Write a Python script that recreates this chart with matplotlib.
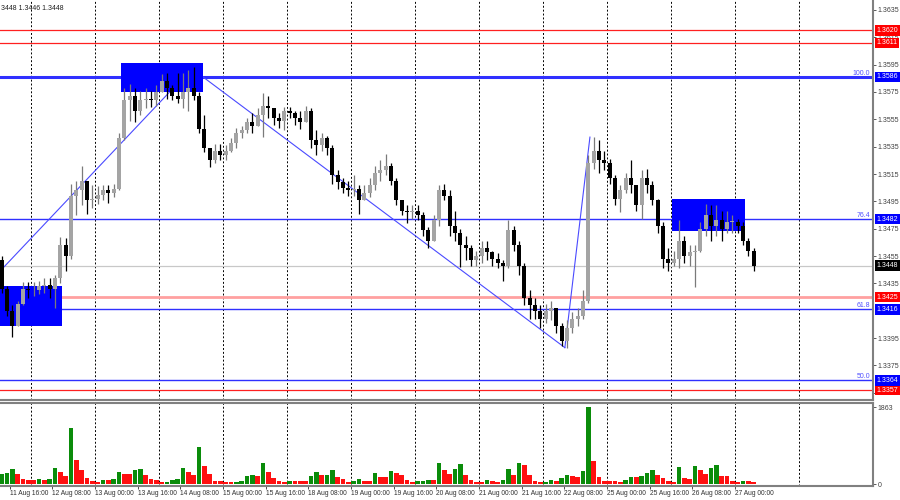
import numpy as np
import matplotlib
matplotlib.use("Agg")
import matplotlib.pyplot as plt
from matplotlib.patches import Rectangle

plt.rcParams['font.family'] = ['Liberation Sans', 'DejaVu Sans']

# GBPUSD, 2-hour bars from 11 Aug 04:00 to 27 Aug 06:00 (weekend hours skipped)
first_open = 1.3452
highs = [1.3455, 1.3433, 1.3419, 1.3422, 1.3436, 1.3436, 1.3436, 1.3437, 1.3439, 1.3439,
         1.3441, 1.3469, 1.3468, 1.3508, 1.3510, 1.3521, 1.3507, 1.3507, 1.3506, 1.3507,
         1.3507, 1.3508, 1.3545, 1.3578, 1.3581, 1.3578, 1.3576, 1.3578, 1.3576, 1.3580,
         1.3588, 1.3589, 1.3580, 1.3589, 1.3589, 1.3591, 1.3593, 1.3575, 1.3558, 1.3534,
         1.3537, 1.3537, 1.3536, 1.3541, 1.3549, 1.3550, 1.3556, 1.3560, 1.3563, 1.3574,
         1.3572, 1.3563, 1.3560, 1.3564, 1.3564, 1.3561, 1.3561, 1.3565, 1.3563, 1.3547,
         1.3545, 1.3543, 1.3536, 1.3518, 1.3512, 1.3510, 1.3514, 1.3507, 1.3507, 1.3512,
         1.3521, 1.3525, 1.3530, 1.3523, 1.3512, 1.3496, 1.3492, 1.3492, 1.3492, 1.3487,
         1.3476, 1.3485, 1.3507, 1.3508, 1.3503, 1.3488, 1.3475, 1.3470, 1.3463, 1.3459,
         1.3466, 1.3466, 1.3459, 1.3457, 1.3452, 1.3481, 1.3477, 1.3466, 1.3450, 1.3430,
         1.3424, 1.3419, 1.3420, 1.3422, 1.3417, 1.3406, 1.3408, 1.3414, 1.3417, 1.3430,
         1.3529, 1.3542, 1.3540, 1.3532, 1.3526, 1.3514, 1.3507, 1.3516, 1.3525, 1.3507,
         1.3518, 1.3519, 1.3510, 1.3497, 1.3480, 1.3461, 1.3459, 1.3481, 1.3470, 1.3463,
         1.3463, 1.3480, 1.3493, 1.3492, 1.3492, 1.3488, 1.3488, 1.3485, 1.3482, 1.3480,
         1.3468, 1.3461]
lows = [1.3428, 1.3411, 1.3396, 1.3406, 1.3419, 1.3424, 1.3426, 1.3427, 1.3428, 1.3424,
        1.3417, 1.3435, 1.3444, 1.3453, 1.3485, 1.3492, 1.3486, 1.3490, 1.3493, 1.3496,
        1.3494, 1.3498, 1.3503, 1.3540, 1.3554, 1.3553, 1.3558, 1.3563, 1.3564, 1.3565,
        1.3575, 1.3570, 1.3569, 1.3567, 1.3563, 1.3561, 1.3569, 1.3545, 1.3531, 1.3520,
        1.3523, 1.3525, 1.3525, 1.3531, 1.3534, 1.3541, 1.3545, 1.3545, 1.3550, 1.3542,
        1.3556, 1.3551, 1.3549, 1.3547, 1.3556, 1.3551, 1.3548, 1.3556, 1.3534, 1.3529,
        1.3532, 1.3529, 1.3508, 1.3504, 1.3501, 1.3499, 1.3499, 1.3486, 1.3497, 1.3498,
        1.3503, 1.3510, 1.3514, 1.3507, 1.3492, 1.3485, 1.3479, 1.3482, 1.3481, 1.3470,
        1.3461, 1.3466, 1.3477, 1.3496, 1.3470, 1.3466, 1.3447, 1.3452, 1.3448, 1.3448,
        1.3450, 1.3452, 1.3448, 1.3446, 1.3437, 1.3446, 1.3459, 1.3441, 1.3419, 1.3409,
        1.3409, 1.3402, 1.3406, 1.3408, 1.3399, 1.3389, 1.3388, 1.3399, 1.3404, 1.3409,
        1.3421, 1.3519, 1.3516, 1.3518, 1.3508, 1.3492, 1.3487, 1.3501, 1.3501, 1.3488,
        1.3482, 1.3501, 1.3492, 1.3472, 1.3446, 1.3444, 1.3448, 1.3446, 1.3450, 1.3448,
        1.3432, 1.3458, 1.3470, 1.3466, 1.3470, 1.3466, 1.3472, 1.3472, 1.3472, 1.3463,
        1.3455, 1.3444]
closes = [1.3431, 1.3415, 1.3404, 1.3420, 1.3431, 1.3430, 1.3430, 1.3433, 1.3434, 1.3431,
          1.3439, 1.3463, 1.3455, 1.3499, 1.3503, 1.3510, 1.3496, 1.3497, 1.3500, 1.3503,
          1.3501, 1.3504, 1.3541, 1.3569, 1.3572, 1.3561, 1.3569, 1.3570, 1.3569, 1.3575,
          1.3583, 1.3578, 1.3572, 1.3570, 1.3575, 1.3578, 1.3572, 1.3548, 1.3534, 1.3525,
          1.3532, 1.3529, 1.3532, 1.3538, 1.3545, 1.3547, 1.3553, 1.3550, 1.3558, 1.3565,
          1.3563, 1.3556, 1.3554, 1.3561, 1.3560, 1.3556, 1.3553, 1.3561, 1.3540, 1.3536,
          1.3541, 1.3534, 1.3514, 1.3509, 1.3505, 1.3503, 1.3504, 1.3496, 1.3501, 1.3507,
          1.3516, 1.3518, 1.3521, 1.3510, 1.3496, 1.3488, 1.3487, 1.3488, 1.3485, 1.3474,
          1.3466, 1.3481, 1.3503, 1.3499, 1.3477, 1.3472, 1.3463, 1.3461, 1.3452, 1.3455,
          1.3461, 1.3458, 1.3453, 1.3450, 1.3448, 1.3474, 1.3463, 1.3448, 1.3424, 1.3419,
          1.3415, 1.3409, 1.3415, 1.3417, 1.3404, 1.3393, 1.3402, 1.3409, 1.3411, 1.3422,
          1.3523, 1.3532, 1.3525, 1.3523, 1.3512, 1.3497, 1.3503, 1.3512, 1.3507, 1.3492,
          1.3512, 1.3507, 1.3496, 1.3477, 1.3453, 1.3450, 1.3453, 1.3466, 1.3455, 1.3458,
          1.3459, 1.3475, 1.3485, 1.3477, 1.3481, 1.3475, 1.3480, 1.3480, 1.3477, 1.3466,
          1.3459, 1.3448]
volumes = [240, 270, 360, 240, 130, 100, 100, 120, 100, 110,
           380, 290, 200, 1350, 580, 340, 150, 70, 60, 90,
           90, 120, 290, 240, 240, 340, 360, 210, 120, 100,
           50, 60, 90, 110, 390, 290, 220, 900, 430, 240,
           80, 70, 50, 50, 60, 70, 200, 230, 190, 510,
           290, 150, 70, 50, 80, 80, 80, 80, 200, 290,
           210, 230, 340, 180, 120, 50, 70, 120, 80, 80,
           270, 180, 180, 320, 260, 210, 100, 40, 70, 80,
           100, 100, 510, 330, 240, 360, 480, 210, 100, 50,
           50, 100, 80, 50, 90, 360, 220, 500, 460, 210,
           80, 40, 50, 100, 70, 140, 230, 190, 170, 310,
           1863, 560, 180, 70, 70, 70, 60, 100, 170, 170,
           190, 270, 340, 210, 150, 80, 50, 410, 150, 120,
           440, 330, 240, 380, 460, 200, 200, 70, 60, 80,
           70, 40]

# x axis is counted in trading hours from 12 Aug 00:00
time_labels = ['11 Aug 16:00', '12 Aug 08:00', '13 Aug 00:00', '13 Aug 16:00',
               '14 Aug 08:00', '15 Aug 00:00', '15 Aug 16:00', '18 Aug 08:00',
               '19 Aug 00:00', '19 Aug 16:00', '20 Aug 08:00', '21 Aug 00:00',
               '21 Aug 16:00', '22 Aug 08:00', '25 Aug 00:00', '25 Aug 16:00',
               '26 Aug 08:00', '27 Aug 00:00']
label_hours = list(range(-8, 265, 16))
day_hours = list(range(0, 289, 24))

price_ticks = [1.3635, 1.3615, 1.3595, 1.3575, 1.3555, 1.3535, 1.3515, 1.3495,
               1.3475, 1.3455, 1.3435, 1.3395, 1.3375, 1.3355]
red_levels = [1.3620, 1.3611, 1.3357]
pink_level = 1.3425
bid = 1.3448
fib_levels = [1.3586, 1.3482, 1.3416, 1.3364]
fib_names = ['100.0', '76.4', '61.8', '50.0']
# zones: hour from, hour to, price low, price high
zones = [(-14, 11.6, 1.3404, 1.3433),
         (33.7, 64.5, 1.3575, 1.3596),
         (240.4, 267.7, 1.3473, 1.3497)]
# swing lines: (hour, price) pairs
swing_lines = [((-11.6, 1.3444), (60.7, 1.3593)),
               ((64.5, 1.3586), (200.2, 1.3388)),
               ((200.2, 1.3388), (209.6, 1.3542))]

opens = [first_open] + closes[:-1]
xh = np.arange(len(closes)) * 2 - 11  # centre of each 2h bar
o = np.array(opens)
c = np.array(closes)
hi = np.maximum(np.array(highs), np.maximum(o, c))
lo = np.minimum(np.array(lows), np.minimum(o, c))
up = c >= o

fig = plt.figure(figsize=(9, 5), dpi=100)
ax = fig.add_axes([0, 0.2, 0.97, 0.8])
axv = fig.add_axes([0, 0.028, 0.97, 0.166], sharex=ax)

xmin, xmax = -11.625, 315.75
ax.set_xlim(xmin, xmax)
ax.set_ylim(1.36423 - 400 / 13670, 1.36423)

for h in day_hours:
    ax.axvline(h, color='black', lw=0.7, ls=(0, (2, 2)), zorder=0.5)
    axv.axvline(h, color='black', lw=0.7, ls=(0, (2, 2)), zorder=0.5)

# horizontal levels
for lv in red_levels:
    ax.axhline(lv, color='#ff2020', lw=0.9, zorder=1)
ax.axhline(pink_level, color='#ffa0a0', lw=2, zorder=1)
ax.axhline(bid, color='#c8c8c8', lw=0.9, zorder=1)
for lv, nm in zip(fib_levels, fib_names):
    ax.axhline(lv, color='#3030ff', lw=2.2 if nm == '100.0' else 1, zorder=1)
    ax.text(0.997, lv + 0.00003, nm, transform=ax.get_yaxis_transform(), ha='right',
            va='bottom', fontsize=5, color='#5050ff')

for (x0, y0), (x1, y1) in swing_lines:
    ax.plot([x0, x1], [y0, y1], color='#4a4aff', lw=0.8, zorder=1.2)

for h0, h1, p0, p1 in zones:
    ax.add_patch(Rectangle((h0, p0), h1 - h0, p1 - p0, facecolor='#0000ff',
                           edgecolor='none', zorder=2))

# candles
wick_col = np.where(up, '#7a7a7a', '#000000')
body_col = np.where(up, '#a4a4a4', '#000000')
ax.vlines(xh, lo, hi, colors=wick_col, lw=0.9, zorder=3)
body = np.maximum(np.abs(c - o), 0.00004)
ax.bar(xh, body, bottom=np.minimum(o, c), width=1.45, color=body_col, zorder=4)

# axes styling - main
for s in ['top', 'left']:
    ax.spines[s].set_visible(False)
ax.spines['right'].set_color('#808080')
ax.spines['right'].set_linewidth(1.5)
ax.spines['bottom'].set_color('#808080')
ax.spines['bottom'].set_linewidth(1.5)
ax.yaxis.tick_right()
ax.set_yticks(price_ticks)
ax.set_yticklabels(['%.4f' % p for p in price_ticks])
ax.tick_params(axis='y', length=2, width=0.6, pad=1.5, labelsize=5, colors='#404040')
ax.tick_params(axis='x', bottom=False, labelbottom=False)

def price_box(y, txt, fc):
    ax.text(1.004, y, txt, transform=ax.get_yaxis_transform(), ha='left', va='center',
            fontsize=5, color='white', clip_on=False, zorder=10,
            bbox=dict(boxstyle='square,pad=0.25', fc=fc, ec='none'))

for lv in red_levels:
    price_box(lv, '%.4f' % lv, '#ff0000')
price_box(pink_level, '%.4f' % pink_level, '#ff0000')
for lv in fib_levels:
    price_box(lv, '%.4f' % lv, '#0000ff')
price_box(bid, '%.4f' % bid, '#000000')

fig.text(0.001, 0.99, '3448 1.3446 1.3448', fontsize=5, va='top', ha='left',
         color='#202020')

# volumes
v = np.array(volumes)
grow = np.r_[True, v[1:] > v[:-1]]
axv.bar(xh, v, width=1.7, color=np.where(grow, '#0a8c0a', '#ff1010'), zorder=3)
axv.set_ylim(-48, 1960)
axv.spines['left'].set_visible(False)
for s in ['top', 'bottom', 'right']:
    axv.spines[s].set_color('#808080')
    axv.spines[s].set_linewidth(1.5)
axv.yaxis.tick_right()
axv.set_yticks([0, 1863])
axv.set_yticklabels(['0', '1863'])
axv.tick_params(axis='y', length=2, width=0.6, pad=1.5, labelsize=5, colors='#404040')
axv.set_xticks(label_hours)
axv.set_xticklabels(time_labels, ha='left')
axv.tick_params(axis='x', length=2, width=0.6, pad=1, labelsize=4.8, colors='#303030')
axv.set_xlim(xmin, xmax)

fig.savefig('out.png', dpi=100, facecolor='white')
